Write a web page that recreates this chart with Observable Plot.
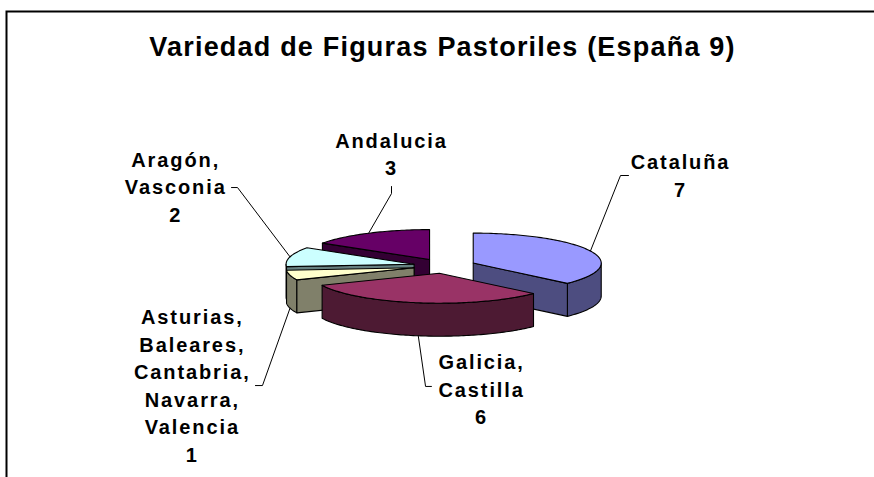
<!DOCTYPE html>
<html><head><meta charset="utf-8">
<script src="https://cdn.jsdelivr.net/npm/d3@7"></script>
<script src="https://cdn.jsdelivr.net/npm/@observablehq/plot@0.6"></script>
<style>
html,body{margin:0;padding:0;background:#fff;overflow:hidden}
#chart svg{display:block}
</style>
</head><body><div id="chart"></div>
<script>
// ---- data ----
const title = "Variedad de Figuras Pastoriles (España 9)";
const regions = ["Cataluña", "Galicia,\nCastilla", "Asturias,\nBaleares,\nCantabria,\nNavarra,\nValencia", "Aragón,\nVasconia", "Andalucia"];
const values = [7, 6, 1, 2, 3];
const topColors = ["#9999FF", "#993366", "#FFFFCC", "#CCFFFF", "#660066"];
const sideColors = ["#4D4D80", "#4D1A33", "#80806A", "#668080", "#330033"];

// ---- layout (pie units: radius = 1) ----
const tilt = 0.234, depth = 0.258, explode = 0.245;
const labelPos = [[1.844, 0.717], [0.29, -0.951], [-1.97, -0.922], [-2.10, 0.629], [-0.414, 0.887]];
const leaderElbow = [[1.375, 0.707], [-0.148, -0.941], [-1.422, -0.934], [-1.617, 0.613], [-0.414, 0.566]];
const leaderEnd = [[1.4375, 0.707], [-0.102, -0.941], [-1.477, -0.934], [-1.664, 0.613], [-0.414, 0.621]];

const W = 874, H = 477;
const arcs = d3.pie().sort(null).startAngle(0).endAngle(2 * Math.PI)(values);

function pt(c, theta, r, level) {
  return {x: c.x + r * Math.sin(theta), y: c.y + r * Math.cos(theta) * tilt + level};
}
function arcPts(c, t0, t1, level) {
  const n = Math.max(2, Math.ceil(Math.abs(t1 - t0) / 0.02));
  const out = [];
  for (let k = 0; k <= n; k++) out.push(pt(c, t0 + (t1 - t0) * k / n, 1, level));
  return out;
}

const slices = arcs.map((a, i) => {
  const mid = (a.startAngle + a.endAngle) / 2;
  return {i, a0: a.startAngle, a1: a.endAngle, mid,
    c: {x: explode * Math.sin(mid), y: explode * Math.cos(mid) * tilt}};
});
const order = slices.slice().sort((p, q) => Math.cos(q.mid) - Math.cos(p.mid));

const marks = [];
marks.push(Plot.frame({stroke: "black", strokeWidth: 2, insetLeft: 6, insetTop: 11, insetRight: -20, insetBottom: -20}));

for (const s of order) {
  const faces = [];
  const b0 = Math.max(s.a0, Math.PI / 2), b1 = Math.min(s.a1, 3 * Math.PI / 2);
  if (b1 > b0) faces.push(arcPts(s.c, b0, b1, 0).concat(arcPts(s.c, b1, b0, -depth)));
  if (Math.sin(s.a0) < -1e-9) faces.push([pt(s.c, 0, 0, 0), pt(s.c, s.a0, 1, 0), pt(s.c, s.a0, 1, -depth), pt(s.c, 0, 0, -depth)]);
  if (Math.sin(s.a1) > 1e-9) faces.push([pt(s.c, 0, 0, 0), pt(s.c, s.a1, 1, 0), pt(s.c, s.a1, 1, -depth), pt(s.c, 0, 0, -depth)]);
  for (const f of faces) marks.push(Plot.line(f, {x: "x", y: "y", curve: "linear-closed", fill: sideColors[s.i], stroke: "black", strokeWidth: 1.1}));
  const topFace = [pt(s.c, 0, 0, 0), ...arcPts(s.c, s.a0, s.a1, 0)];
  marks.push(Plot.line(topFace, {x: "x", y: "y", curve: "linear-closed", fill: topColors[s.i], stroke: "black", strokeWidth: 1.1}));
}

// leader lines
const leaders = [];
slices.forEach(s => {
  const lvl = Math.cos(s.mid) < 0 ? -depth : 0;
  const r = pt(s.c, s.mid, 1, lvl);
  leaders.push({id: s.i, x: r.x, y: r.y});
  leaders.push({id: s.i, x: leaderElbow[s.i][0], y: leaderElbow[s.i][1]});
  leaders.push({id: s.i, x: leaderEnd[s.i][0], y: leaderEnd[s.i][1]});
});
marks.push(Plot.line(leaders, {x: "x", y: "y", z: "id", stroke: "black", strokeWidth: 1}));

const labels = slices.map(s => ({x: labelPos[s.i][0], y: labelPos[s.i][1], text: regions[s.i] + "\n" + values[s.i]}));
marks.push(Plot.text(labels, {x: "x", y: "y", text: "text", fontSize: 20, fontWeight: "bold", lineHeight: 1.375, lineAnchor: "middle", fill: "black", fontFamily: "Arial, 'Liberation Sans', sans-serif"}));

marks.push(Plot.text([title], {frameAnchor: "top", dx: 5, dy: 47, fontSize: 27, fontWeight: "bold", fill: "black", lineAnchor: "middle", fontFamily: "Arial, 'Liberation Sans', sans-serif"}));

const chart = Plot.plot({
  width: W, height: H,
  marginTop: 0, marginRight: 0, marginBottom: 0, marginLeft: 0,
  x: {domain: [-444 / 128, 430 / 128], axis: null},
  y: {domain: [(265.5 - H) / 128, 265.5 / 128], axis: null},
  marks
});
d3.select(chart).selectAll("g").filter(function () { return this.getAttribute("font-size") === "20"; }).style("letter-spacing", "1.9px");
d3.select(chart).selectAll("g").filter(function () { return this.getAttribute("font-size") === "27"; }).style("letter-spacing", "1.2px");
document.getElementById("chart").appendChild(chart);
</script>
</body></html>
